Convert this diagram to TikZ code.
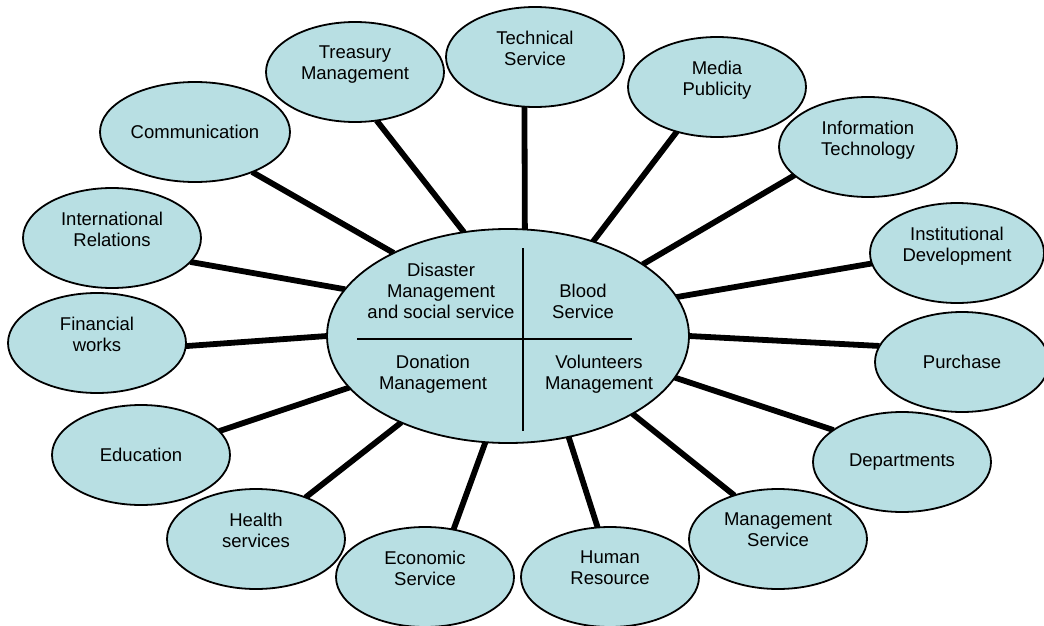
\documentclass[tikz,border=0pt]{standalone}
\usepackage{fontspec}
\setmainfont{Liberation Sans}
\usetikzlibrary{shapes.geometric}
\definecolor{bubble}{RGB}{184,223,227}
\pgfdeclarelayer{bg}
\pgfsetlayers{bg,main}
\newcommand{\pad}{\\[-9pt]\strut}
\begin{document}
\begin{tikzpicture}[x=1pt,y=-1pt,
  txt/.style={font=\fontsize{18.5}{21}\selectfont, align=center},
  bub/.style={ellipse, draw, line width=1.8pt, fill=bubble, minimum width=178pt, minimum height=100pt, inner sep=0pt, outer sep=0pt, txt},
  lbl/.style={inner sep=0pt, txt},
  link/.style={line width=5.8pt},
  divider/.style={line width=1.8pt}]
\useasboundingbox (0,0) rectangle (1044,626);
% hub
\node[bub, minimum width=362pt, minimum height=214pt] (hub) at (508,336) {};
\draw[divider] (523,248) -- (523,431);
\draw[divider] (357,339) -- (632,339);
\node[lbl] (dis) at (441,291) {Disaster\\Management\\and social service};
\node[lbl] (blood) at (583,301) {Blood\\Service};
\node[lbl] (don) at (433,374.5) {Donation\\Management};
\node[lbl] (vol) at (599,374.5) {Volunteers\\Management};
% outer bubbles
\node[bub, minimum width=190pt] (comm) at (195,132) {\raisebox{-2pt}{Communication}};
\node[bub] (treas) at (355,72) {Treasury\\Management\pad};
\node[bub] (tech) at (535,57) {Technical\\Service\pad};
\node[bub] (media) at (717,87) {Media\\Publicity\pad};
\node[bub] (it) at (868,147) {Information\\Technology\pad};
\node[bub, minimum width=174pt] (inst) at (957,253) {Institutional\\Development\pad};
\node[bub] (intl) at (112,238) {International\\Relations\pad};
\node[bub] (fin) at (97,343) {Financial\\works\pad};
\node[bub, minimum width=174pt] (purch) at (962,362) {\raisebox{-2pt}{Purchase}};
\node[bub] (dept) at (902,462) {\raisebox{-3pt}{Departments}};
\node[bub] (mgmt) at (778,539) {Management\\Service\pad};
\node[bub] (hr) at (610,577) {Human\\Resource\pad};
\node[bub] (econ) at (425,577) {Economic\\Service\pad};
\node[bub] (health) at (256,539) {Health\\services\pad};
\node[bub] (edu) at (141,455) {Education};
% connectors
\begin{pgfonlayer}{bg}
\draw[link] (hub.144) -- (comm.-35);
\draw[link] (hub.113.5) -- (treas.-66);
\draw[link] (hub.81.5) -- (tech.-102.4);
\draw[link] (hub.48.8) -- (media.-132.3);
\draw[link] (hub.28.9) -- (it.-159.3);
\draw[link] (hub.13.2) -- (inst.-173.4);
\draw[link] (hub.164.5) -- (intl.-17.1);
\draw[link] (hub.180.6) -- (fin.-2);
\draw[link] (hub.0) -- (purch.169.8);
\draw[link] (hub.-14.1) -- (dept.155.4);
\draw[link] (hub.-32.1) -- (mgmt.135);
\draw[link] (hub.-59.1) -- (hr.104.3);
\draw[link] (hub.-102.1) -- (econ.59.2);
\draw[link] (hub.-141.1) -- (health.40.1);
\draw[link] (hub.-162) -- (edu.17.6);
\end{pgfonlayer}
\end{tikzpicture}
\end{document}
